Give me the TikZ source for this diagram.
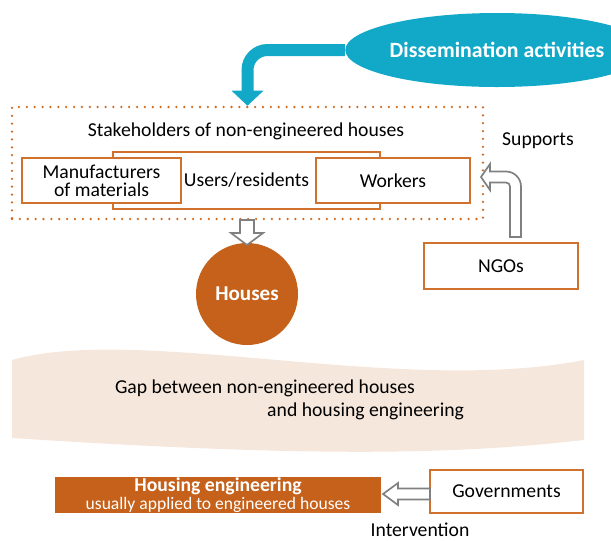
\documentclass[tikz,border=0pt]{standalone}
\usepackage{fontspec}
\setmainfont{Carlito}
\usetikzlibrary{arrows.meta,shapes.geometric}

\definecolor{dissemblue}{HTML}{12A9C8}
\definecolor{housefill}{HTML}{C5611A}
\definecolor{boxline}{HTML}{D0712E}
\definecolor{dotorange}{HTML}{D06A1F}
\definecolor{arrowgray}{HTML}{808080}
\definecolor{gapfill}{HTML}{F6E7DC}

\begin{document}
\begin{tikzpicture}[
    txt/.style={font=\fontsize{14}{16}\selectfont},
    box/.style={txt,draw=boxline,line width=1.4pt,fill=white,inner sep=0pt},
    hollow/.style={draw=arrowgray,line width=1.2pt,fill=white},
]
    \useasboundingbox (0,0) rectangle (15.275,-13.5);

    % gap band
    \fill[gapfill] (0.3,-9) .. controls (3.5,-8.1) and (10,-9.9) .. (14.6,-9)
        -- (14.6,-11) .. controls (11.5,-11.35) and (8,-11.45) .. (0.3,-10.95) -- cycle;
    \node[txt] (gap1) at (6.625,-9.7) {Gap between non-engineered houses};
    \node[txt] (gap2) at (9.14,-10.275) {and housing engineering};

    % stakeholders
    \node[draw=dotorange,line width=1.8pt,dash pattern=on 0pt off 5.6pt,line cap=round,
        minimum width=11.775cm,minimum height=2.8cm] (stake) at (6.1875,-4.075) {};
    \node[txt] (staketitle) at (6.15,-3.275) {Stakeholders of non-engineered houses};
    \node[box,minimum width=6.675cm,minimum height=1.425cm] (users) at (6.1625,-4.5125) {Users/residents};
    \node[box,minimum width=3.975cm,minimum height=1.125cm,align=center,
        font=\fontsize{14}{13}\selectfont] (manuf) at (2.5375,-4.5125) {Manufacturers\\of materials};
    \node[box,minimum width=3.85cm,minimum height=1.125cm] (workers) at (9.825,-4.5125) {Workers};

    % dissemination
    \node[ellipse,fill=dissemblue,minimum width=5.7cm,minimum height=1.85cm,inner sep=0pt,
        text=white,font=\bfseries\fontsize{15.5}{17}\selectfont] (dissem) at (12.425,-1.25) {Dissemination activities};
    \draw[dissemblue,line width=0.3cm,rounded corners=0.5cm,
        -{Triangle[width=0.775cm,length=0.375cm]}] (dissem.west) -| (stake.north);

    % houses
    \node[circle,fill=housefill,minimum size=2.55cm,text=white,
        font=\bfseries\fontsize{15}{17}\selectfont] (houses) at (6.175,-7.35) {Houses};
    \draw[hollow] (6,-5.5) -- (6.35,-5.5) -- (6.35,-5.825) -- (6.575,-5.825) -- (6.175,-6.125)
        -- (5.775,-5.825) -- (6,-5.825) -- cycle;

    % ngos
    \node[box,minimum width=3.85cm,minimum height=1.15cm] (ngos) at (12.525,-6.65) {NGOs};
    \node[txt] (supports) at (13.45,-3.525) {Supports};
    \draw[hollow] (12.75,-5.925) -- (13.025,-5.925) -- (13.025,-4.6625)
        arc[start angle=0,end angle=90,radius=0.375] -- (12.25,-4.2875) -- (12.25,-4.1)
        -- (12.025,-4.425) -- (12.25,-4.75) -- (12.25,-4.5625) -- (12.65,-4.5625)
        arc[start angle=90,end angle=0,radius=0.1] -- cycle;

    % engineering
    \node[fill=housefill,text=white,minimum width=8.15cm,minimum height=0.85cm,inner sep=0pt,
        align=center,font=\fontsize{14}{13}\selectfont] (hoeng) at (5.45,-12.375)
        {\bfseries Housing engineering\\[0pt]{\fontsize{12.5}{13}\selectfont usually applied to engineered houses}};
    \node[box,minimum width=3.825cm,minimum height=1.075cm] (gov) at (12.6625,-12.2875) {Governments};
    \draw[hollow] (10.75,-12.2125) -- (9.95,-12.2125) -- (9.95,-12.075) -- (9.575,-12.35)
        -- (9.95,-12.625) -- (9.95,-12.4875) -- (10.75,-12.4875) -- cycle;
    \node[txt,anchor=base] (interv) at (10.5,-13.42) {Intervention};
\end{tikzpicture}
\end{document}
